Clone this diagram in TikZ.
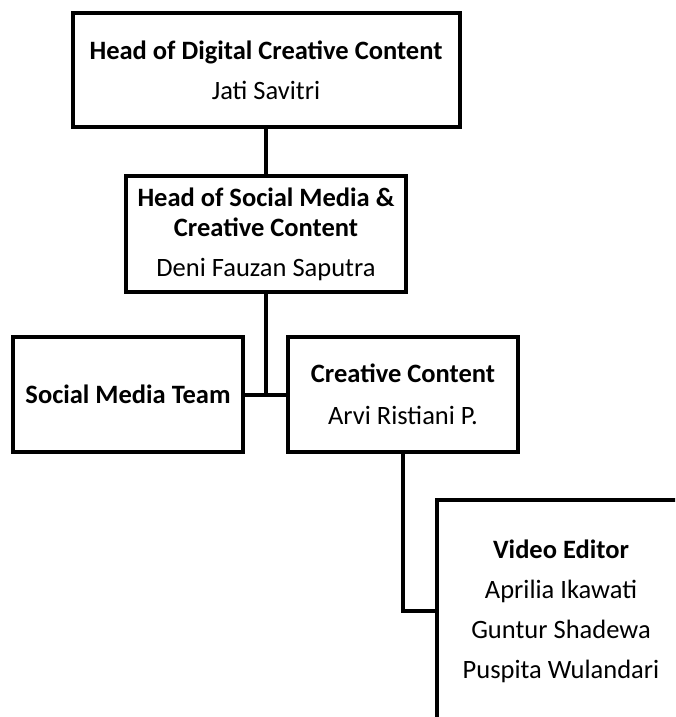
\documentclass[tikz,border=0pt]{standalone}
\usepackage{fontspec}
\setmainfont{Carlito}
\begin{document}
\begin{tikzpicture}[x=1pt,y=-1pt,
  box/.style={draw,line width=4pt,inner sep=0pt,align=center,
    font=\fontsize{26.5}{30}\selectfont},
  link/.style={line width=4pt}]
  \useasboundingbox (0,0) rectangle (675,717);
  \clip (0,0) rectangle (675,717);
  \node[box,minimum width=387pt,minimum height=114pt] (hdcc) at (266,70)
    {\textbf{Head of Digital Creative Content}\\[10pt]Jati Savitri};
  \node[box,minimum width=280pt,minimum height=116pt] (hsm) at (266,234)
    {\textbf{Head of Social Media \&}\\\textbf{Creative Content}\\[10pt]Deni Fauzan Saputra};
  \node[box,minimum width=230pt,minimum height=115pt] (smteam) at (128,394.5)
    {\textbf{Social Media Team}};
  \node[box,minimum width=230pt,minimum height=115pt] (cc) at (403,394.5)
    {\textbf{Creative Content}\\[12pt]Arvi Ristiani P.};
  \node[box,minimum width=248pt,minimum height=222pt] (vedit) at (561,611)
    {\textbf{Video Editor}\\[10pt]Aprilia Ikawati\\[10pt]Guntur Shadewa\\[10pt]Puspita Wulandari};
  \draw[link] (hdcc) -- (hsm);
  \draw[link] (hsm.south) -- (hsm.south |- smteam.east);
  \draw[link] (smteam) -- (cc);
  \draw[link] (cc.south) |- (vedit.west);
\end{tikzpicture}
\end{document}
